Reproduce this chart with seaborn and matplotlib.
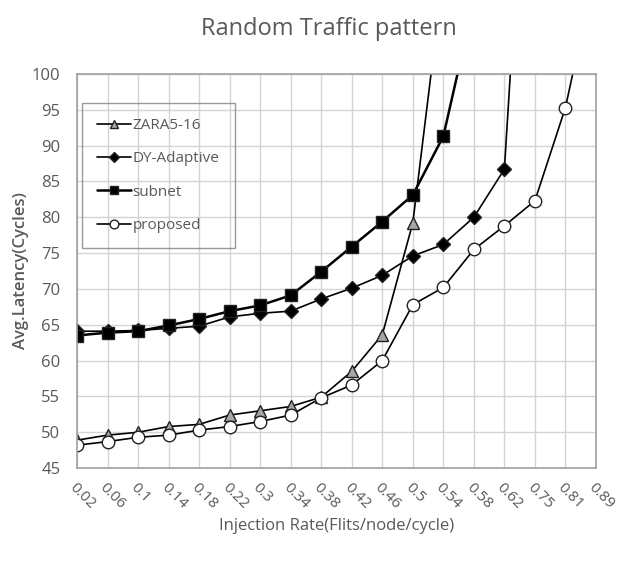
import numpy as np
import pandas as pd
import matplotlib
matplotlib.use("Agg")
import matplotlib.pyplot as plt
import seaborn as sns

# injection rates (categorical x axis)
rates = ["0.02", "0.06", "0.1", "0.14", "0.18", "0.22", "0.3", "0.34", "0.38",
         "0.42", "0.46", "0.5", "0.54", "0.58", "0.62", "0.75", "0.81", "0.89"]

# latency values (last points run off the top)
zara = [48.9, 49.6, 50.0, 50.8, 51.1, 52.4, 53.0, 53.6, 54.9, 58.5, 63.6, 79.2, 114]
dyAdaptive = [64.1, 64.1, 64.2, 64.5, 64.8, 66.1, 66.6, 66.9, 68.6, 70.1, 71.9,
              74.6, 76.2, 80.0, 86.7, 155]
subnet = [63.5, 63.9, 64.1, 64.9, 65.8, 66.9, 67.7, 69.1, 72.4, 75.9, 79.4, 83.1,
          91.3, 110]
proposed = [48.2, 48.7, 49.3, 49.6, 50.3, 50.8, 51.5, 52.4, 54.8, 56.6, 60.0, 67.8,
            70.2, 75.5, 78.8, 82.3, 95.3, 115]

series = {
     "ZARA5-16": zara,
     "DY-Adaptive": dyAdaptive,
     "subnet": subnet,
     "proposed": proposed,
}

rows = []
for name, vals in series.items():
     for i, v in enumerate(vals):
          rows.append({"series": name, "pos": i, "rate": rates[i], "latency": v})
df = pd.DataFrame(rows)

sns.set_style("white")
plt.rcParams['font.family'] = ['Open Sans', 'DejaVu Sans']
txtCol = '#595959'

fig = plt.figure(figsize=(6.33, 5.64), dpi=100)
ax = fig.add_axes([0.1216, 0.170, 0.8199, 0.699])

styles = {
     "ZARA5-16": dict(marker='^', markerfacecolor='#a6a6a6', markersize=9, linewidth=1.2),
     "DY-Adaptive": dict(marker='D', markerfacecolor='black', markersize=7, linewidth=1.2),
     "subnet": dict(marker='s', markerfacecolor='black', markersize=8, linewidth=1.8),
     "proposed": dict(marker='o', markerfacecolor='white', markersize=9, linewidth=1.2),
}

for name in series:
     sub = df[df.series == name]
     sns.lineplot(data=sub, x='pos', y='latency', ax=ax, color='black', label=name,
                  markeredgecolor='#222222', markeredgewidth=1.0, sort=False,
                  **styles[name])

ax.set_xlim(0, len(rates) - 1)
ax.set_ylim(45, 100)
ax.set_yticks(np.arange(45, 101, 5))
ax.set_xticks(range(len(rates)))
ax.set_xticklabels(rates, rotation=-45, ha='left', va='top', rotation_mode='anchor')
ax.tick_params(axis='x', colors=txtCol, labelsize=11, length=0, pad=9)
ax.tick_params(axis='y', colors=txtCol, labelsize=12, length=0, pad=12)

ax.grid(True, color='#d4d4d4', linewidth=1.0)
ax.set_axisbelow(True)
for sp in ax.spines.values():
     sp.set_color('#a0a0a0')
     sp.set_linewidth(1.2)

ax.set_xlabel('Injection Rate(Flits/node/cycle)', color=txtCol, fontsize=12, labelpad=4)
ax.set_ylabel('Avg.Latency(Cycles)', color=txtCol, fontsize=12, labelpad=2,
              fontweight='semibold')
fig.text(0.52, 0.948, 'Random Traffic pattern', color=txtCol, fontsize=17,
         ha='center', va='center')

leg = ax.legend(loc='upper left', bbox_to_anchor=(0.01, 0.927), borderaxespad=0,
                frameon=True, fancybox=False, facecolor='none', edgecolor='#808080',
                fontsize=11, labelspacing=1.2, handlelength=2.2, handletextpad=0.1,
                borderpad=1.0, markerscale=0.7)
leg.get_frame().set_linewidth(1.0)
for t in leg.get_texts():
     t.set_color(txtCol)

fig.savefig('out.png', dpi=100)
